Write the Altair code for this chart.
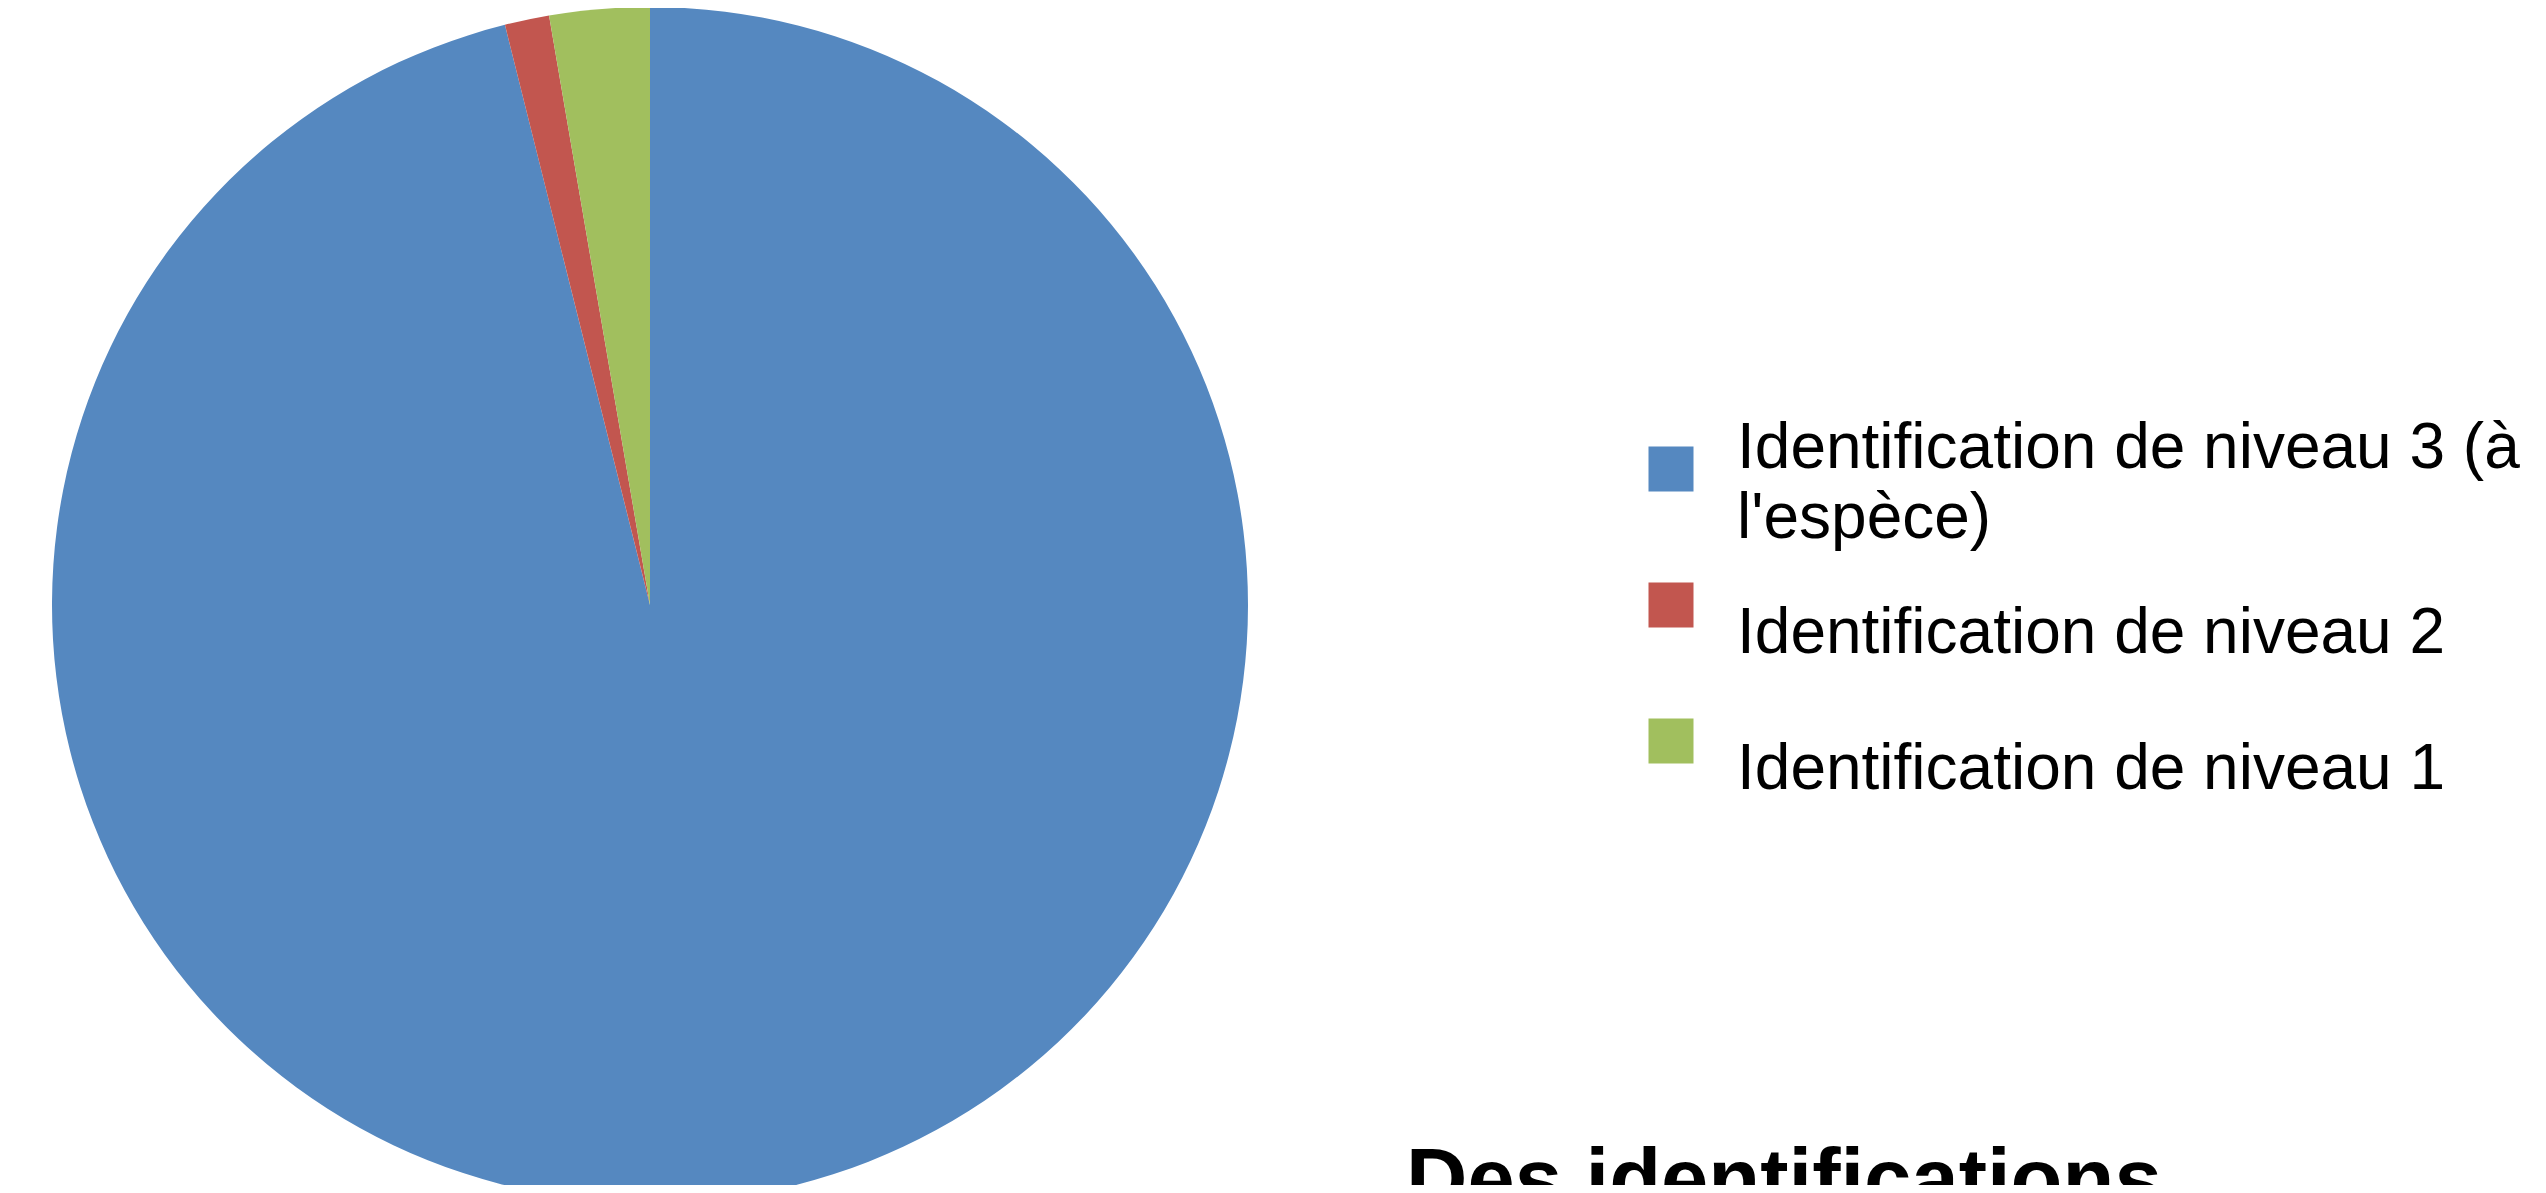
import altair as alt
import pandas as pd

# ---- data ----
categories = [
    "Identification de niveau 3 (à l'espèce)",
    "Identification de niveau 2",
    "Identification de niveau 1",
]
values = [96.1, 1.2, 2.7]
slice_order = [0, 1, 2]
legend_labels = [
    "Identification de niveau 3 (à\nl'espèce)",
    "Identification de niveau 2",
    "Identification de niveau 1",
]
colors = ["#5588c0", "#c2564f", "#a1bf5e"]
title_text = ["Des identifications"]

FONT = "Liberation Sans"
W, H = 2530, 1177

df = pd.DataFrame({
    "cat": categories,
    "value": values,
    "order": slice_order,
    "label": legend_labels,
})

color = alt.Color("cat:N", scale=alt.Scale(domain=categories, range=colors), legend=None)
ly = alt.Y("cat:N", scale=alt.Scale(type="point", domain=categories, range=[461, 733], padding=0), axis=None)

pie = alt.Chart(df).mark_arc(radius=598, clip=True).encode(
    theta=alt.Theta("value:Q", stack=True),
    order=alt.Order("order:Q"),
    color=color,
    x=alt.value(642),
    y=alt.value(597),
)

squares = alt.Chart(df).mark_square(size=2025, opacity=1, filled=True).encode(
    x=alt.value(1663),
    y=ly,
    color=color,
)

text_first = alt.Chart(df).transform_filter("datum.order == 0").mark_text(
    align="left", baseline="alphabetic", fontSize=64, font=FONT, dy=-1,
    lineBreak="\n", lineHeight=70, color="black",
).encode(x=alt.value(1729), y=ly, text="label:N")

text_rest = alt.Chart(df).transform_filter("datum.order > 0").mark_text(
    align="left", baseline="alphabetic", fontSize=64, font=FONT, dy=48,
    color="black",
).encode(x=alt.value(1729), y=ly, text="label:N")

title = alt.Chart(pd.DataFrame({"t": title_text})).mark_text(
    align="left", baseline="alphabetic", fontSize=85, fontWeight="bold",
    font=FONT, color="black", clip=True,
).encode(x=alt.value(1398), y=alt.value(1200), text="t:N")

chart = alt.layer(pie, squares, text_first, text_rest, title).properties(
    width=W, height=H, padding=0, autosize=alt.AutoSizeParams(type="none"),
).configure_view(stroke=None)

chart.save("out.html", embed_options={"renderer": "svg", "actions": False})
